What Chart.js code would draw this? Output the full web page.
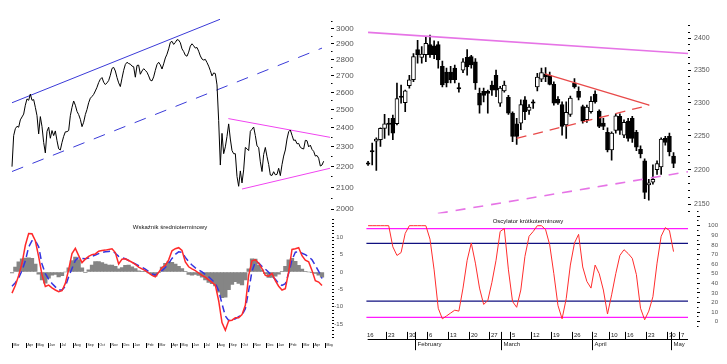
<!DOCTYPE html>
<html><head><meta charset="utf-8">
<script src="https://cdn.jsdelivr.net/npm/chart.js@4.4.1/dist/chart.umd.min.js"></script>
<style>
html,body{margin:0;padding:0;background:#fff;}
#wrap{position:relative;width:727px;height:364px;overflow:hidden;background:#fff;}
canvas{position:absolute;}
.ttl{position:absolute;font-family:"Liberation Sans",Arial,sans-serif;font-size:6px;line-height:1;color:#111;white-space:nowrap;transform:translate(-50%,-50%);}
</style></head>
<body><div id="wrap">
<canvas id="cA" width="360" height="230" style="left:0px;top:0px"></canvas>
<canvas id="cB" width="360" height="159" style="left:0px;top:205px"></canvas>
<canvas id="cC" width="367" height="230" style="left:360px;top:0px"></canvas>
<canvas id="cD" width="367" height="164" style="left:360px;top:200px"></canvas>
<div class="ttl" style="left:170px;top:227px">Wskaźnik średnioterminowy</div>
<div class="ttl" style="left:528px;top:221px">Oscylator krótkoterminowy</div>
</div>
<script>
// ---------- DATA ----------
// Top-left: long-term index (log scale)
const priceA = [2200,2359,2396,2409,2404,2444,2460,2476,2526,2562,
 2554,2590,2554,2558,2514,2467,2368,2462,2407,2323,
 2269,2382,2404,2345,2386,2359,2384,2332,2290,2284,
 2323,2355,2379,2380,2386,2467,2514,2550,2526,2491,
 2473,2447,2407,2431,2473,2502,2540,2566,2576,2588,
 2608,2630,2658,2678,2688,2660,2646,2656,2670,2702,
 2744,2750,2728,2688,2656,2634,2684,2732,2768,2782,
 2774,2770,2758,2754,2690,2762,2764,2708,2728,2742,
 2732,2720,2698,2672,2668,2692,2732,2768,2782,2766,
 2740,2772,2809,2833,2867,2909,2916,2896,2909,2927,
 2924,2907,2867,2850,2826,2820,2846,2885,2900,2887,
 2872,2876,2852,2822,2802,2796,2800,2780,2758,2730,
 2698,2716,2712,2644,2440,2208,2371,2265,2300,2355,
 2422,2341,2281,2265,2265,2152,2105,2179,2121,2184,
 2297,2290,2281,2382,2393,2405,2359,2305,2297,2224,
 2176,2261,2297,2250,2211,2159,2157,2175,2160,2162,
 2192,2156,2210,2253,2284,2341,2380,2389,2361,2334,
 2336,2316,2318,2298,2292,2289,2334,2332,2300,2309,
 2287,2277,2253,2256,2242,2203,2208,2227];
const blueTopA = [{x:0,y:2540},{x:124.8,y:3064}];
const blueLowA = [{x:0,y:2176},{x:186,y:2872}];
const magTopA  = [{x:129.8,y:2451},{x:190.8,y:2350}];
const magLowA  = [{x:138,y:2092},{x:190.8,y:2192}];
const tickValsA = [2000,2050,2100,2150,2200,2250,2300,2350,2400,2450,2500,2550,2600,2650,2700,2750,2800,2850,2900,2950,3000,3050];

// Bottom-left: medium-term indicator
const redB = [-6.1,-3.9,-1.0,2.5,7.7,11.1,11.0,9.0,4.4,-0.8,
 -4.2,-3.8,-4.6,-5.2,-5.7,-5.4,-3.3,0.7,5.3,6.8,
 4.7,2.7,3.7,4.5,5.0,5.2,6.0,6.2,6.3,6.5,
 6.7,5.6,2.3,3.7,3.8,3.3,2.8,2.2,1.4,0.9,
 0.4,-0.3,-1.0,-1.4,-0.1,1.3,1.9,3.5,6.1,6.7,
 7.0,6.2,2.9,1.5,0.9,0.4,-0.3,-1.0,-1.5,-2.3,
 -3.0,-3.8,-8.3,-14.6,-16.8,-14.1,-13.9,-13.2,-13.2,-12.3,
 -9.6,-1.0,3.2,3.5,2.5,1.0,-1.0,-1.2,-0.4,-2.5,
 -4.1,-5.2,-4.8,0.0,6.5,6.7,7.0,4.7,3.4,2.9,
 0.4,-2.5,-2.9,-3.9];
const blueB = [-4.1,-3.1,-1.7,0.4,3.2,7.2,9.0,9.0,7.3,2.3,
 -0.5,-2.1,-3.3,-4.3,-5.2,-5.2,-4.2,-1.4,1.0,3.3,
 4.2,3.9,3.8,4.0,4.5,4.9,5.3,5.6,5.8,5.9,
 6.0,5.4,4.5,4.1,3.8,3.3,2.8,2.3,1.8,1.4,
 0.8,0.1,-0.6,-0.9,-0.3,0.4,1.3,2.5,3.9,5.1,
 5.8,5.7,4.2,3.0,2.0,1.2,0.6,0.0,-0.7,-1.4,
 -2.3,-3.3,-5.4,-9.2,-12.7,-14.0,-13.9,-13.5,-12.9,-12.4,
 -10.6,-5.4,0.2,2.9,2.6,1.6,0.8,-0.1,-1.2,-2.1,
 -3.3,-3.9,-3.4,-0.4,3.5,5.7,5.8,5.4,5.0,4.4,
 3.5,1.9,0.2,-1.9];
const histB = [-0.3,1.4,2.9,3.8,4.0,4.1,3.9,2.3,-0.6,-2.3,
 -3.2,-1.8,-0.9,-0.7,-1.4,-1.1,0.0,1.2,3.3,4.3,
 3.6,1.2,-0.2,0.6,2.0,3.0,3.0,2.7,2.3,2.0,
 2.0,1.6,0.9,1.3,1.9,2.0,1.5,1.0,0.3,0.1,
 0.1,-0.3,-0.8,-1.2,-0.2,1.4,2.5,3.0,2.8,2.3,
 1.6,1.0,0.2,-0.7,-0.9,-0.7,-1.0,-1.5,-2.3,-3.0,
 -3.4,-4.0,-5.8,-7.4,-7.3,-5.1,-3.6,-2.8,-3.3,-3.7,
 -2.3,0.9,3.8,3.7,1.9,0.6,-0.5,-1.6,-1.6,-1.2,
 -0.6,0.2,1.6,3.5,3.9,3.1,1.9,0.8,0.1,0.0,
 -0.1,-0.4,-0.9,-1.5];
const tickValsB = [-19,-18,-17,-16,-15,-14,-13,-12,-11,-10,-9,-8,-7,-6,-5,-4,-3,-2,-1,0,1,2,3,4,5,6,7,8,9,10,11,12,13,14,15];
const tickIdxB = [0.1,4.2,7.1,10.9,14.4,18.3,22.1,25.8,29.4,33,36.3,40.1,43.8,47.6,50.4,54.1,57.7,61.4,65.1,68.8,72.4,76.1,79.6,83,86.9,90.4,93.9];
const tickLabelsB = ['Mar','Apr','May','Jun','Jul','Aug','Sep','Oct','Nov','Dec','Jan','Feb','Mar','Apr','May','Jun','Jul','Aug','Sep','Oct','Nov','Dec','Jan','Feb','Mar','Apr','May'];

// Top-right: daily candles
const openC  = [2210,2228,2242,2244,2261,2269,2276,2268,2310,2300,2326,2335,2382,2370,2374,2390,2388,2390,2356,2347,2347,2353,2323,2350,2370,2371,2363,2314,2317,2317,2327,2342,2299,2318,2308,2284,2268,2269,2304,2288,2301,2324,2336,2344,2342,2328,2305,2297,2266,2282,2330,2317,2294,2274,2286,2313,2287,2269,2255,2229,2258,2279,2251,2272,2276,2255,2230,2213,2178,2182,2200,2204,2246,2249,2220];
const highC  = [2212,2239,2247,2262,2282,2276,2281,2330,2327,2319,2342,2376,2397,2387,2403,2405,2396,2395,2364,2353,2356,2358,2330,2368,2382,2373,2368,2322,2322,2319,2333,2350,2325,2333,2311,2286,2276,2304,2309,2297,2304,2345,2353,2354,2347,2332,2309,2301,2301,2310,2337,2324,2296,2296,2309,2318,2289,2276,2262,2256,2283,2283,2274,2276,2279,2258,2235,2216,2186,2207,2213,2247,2249,2254,2225];
const lowC   = [2206,2207,2199,2234,2246,2251,2244,2266,2299,2286,2322,2332,2361,2361,2363,2370,2368,2353,2324,2324,2330,2330,2316,2346,2342,2353,2320,2284,2301,2284,2311,2309,2294,2316,2282,2241,2237,2259,2274,2282,2291,2318,2332,2332,2327,2296,2297,2251,2246,2279,2322,2304,2269,2270,2284,2299,2262,2259,2226,2214,2254,2252,2247,2242,2240,2228,2217,2158,2156,2179,2193,2193,2236,2220,2203];
const closeC = [2208,2226,2245,2261,2268,2267,2254,2306,2308,2318,2335,2371,2374,2375,2392,2374,2374,2366,2327,2330,2335,2335,2321,2363,2355,2358,2330,2296,2311,2314,2319,2319,2322,2327,2284,2249,2249,2297,2286,2293,2299,2339,2346,2340,2328,2299,2299,2264,2285,2307,2324,2308,2272,2293,2302,2301,2264,2264,2229,2254,2280,2258,2270,2246,2246,2233,2223,2167,2181,2186,2209,2245,2240,2226,2209];
const magTopC = [{x:0,y:2409.5},{x:77.5,y:2376}];
const magLowC = [{x:16.9,y:2137},{x:77.5,y:2197}];
const redTopC = [{x:42.9,y:2344},{x:68.1,y:2296}];
const redLowC = [{x:36,y:2246},{x:68.1,y:2296}];
const tickValsC = [2140,2150,2160,2170,2180,2190,2200,2210,2220,2230,2240,2250,2260,2270,2280,2290,2300,2310,2320,2330,2340,2350,2360,2370,2380,2390,2400,2410,2420];

// Bottom-right: short-term oscillator
const oscD = [100,100,100,100,100,100,78,69,72,92,100,100,100,100,100,86,54,14,3,6,9,12,11,35,64,82,61,35,18,22,41,64,94,97,54,21,15,33,68,89,94,100,100,96,80,50,17,3,24,59,82,91,57,42,35,59,50,33,8,28,50,69,75,71,66,49,14,2,11,26,61,89,98,95,73];
const levelsMagD = [97, 4.5];
const levelsNavyD = [81.5, 21.5];
const tickValsD = [-5,0,5,10,15,20,25,30,35,40,45,50,55,60,65,70,75,80,85,90,95,100,105,110,115];
const weekIdxD = [0,5,10,15,20,25,30,35,40,45,50,55,59,63,68,73,76];
const weekLabelsD = ['16','23','30','6','13','20','27','5','12','19','26','2','10','16','23','30','7'];
const monthIdxD = [12,33,55,74];
const monthLabelsD = ['February','March','April','May'];

// ---------- CHARTS ----------
const FONT = '"Liberation Sans", Arial, sans-serif';
Chart.defaults.font.family = FONT;
const base = {responsive:false, animation:false, devicePixelRatio:1, events:[],
  plugins:{legend:{display:false}, tooltip:{enabled:false}}};
function rightAxis(o){
  return Object.assign({position:'right', bounds:'data', beginAtZero:false,
    afterBuildTicks: s => { s.ticks = o.vals.map(v => ({value:v})); },
    afterFit: s => { s.width = o.width; },
    border:{display:false},
    grid:{drawOnChartArea:false, drawTicks:true, tickLength:o.tl, tickColor:'#000', tickWidth:1,
      tickBorderDash: c => (c.tick && o.isMajor(c.tick.value)) ? [] : o.minorDash},
    ticks:{autoSkip:false, padding:o.pad, color:'#555', crossAlign:o.cross||'near',
      font:{size:o.fs, lineHeight:1}, callback: v => o.label(v) ? String(v) : ''}
  }, o.extra||{});
}
const line = (data, color, w, dash) => ({type:'line', data, borderColor:color, borderWidth:w,
  borderDash:dash||[], pointRadius:0, tension:0, fill:false});

// A
new Chart(document.getElementById('cA'), {
  type:'line',
  data:{datasets:[
    line(priceA.map((v,i)=>({x:i,y:v})), '#000', 1),
    line(blueTopA, '#3a3ad8', 1),
    line(blueLowA, '#3a3ad8', 1, [12,10]),
    line(magTopA, '#f044f0', 1),
    line(magLowA, '#f044f0', 1)
  ]},
  options:Object.assign({}, base, {
    layout:{padding:{left:10, top:17, right:0, bottom:9.7}},
    scales:{
      x:{type:'linear', display:false, min:-1.2, max:191.4, offset:false},
      y:rightAxis({vals:tickValsA, width:29, tl:3, pad:2, fs:8, minorDash:[1.5,3],
        isMajor:v=>v%100===0, label:v=>v%100===0, extra:{type:'logarithmic', min:1950, max:3080}})
    }
  })
});

// B
const axisB = {id:'axisB', afterDraw(chart){
  const {ctx, chartArea, scales:{x}} = chart;
  const y1 = chartArea.bottom + 3.4, y2 = chartArea.bottom + 8.4;
  ctx.save(); ctx.strokeStyle = '#000'; ctx.lineWidth = 1; ctx.fillStyle = '#222';
  ctx.font = '3.5px ' + FONT; ctx.textAlign = 'left'; ctx.textBaseline = 'middle';
  tickIdxB.forEach((d,k) => {
    const px = Math.round(x.getPixelForValue(d)) + 0.5;
    ctx.beginPath(); ctx.moveTo(px, y1); ctx.lineTo(px, y2); ctx.stroke();
    ctx.fillText(tickLabelsB[k], px + 1, (y1 + y2) / 2);
  });
  ctx.restore();
}};
new Chart(document.getElementById('cB'), {
  type:'bar',
  data:{datasets:[
    {type:'line', data:redB.map((v,i)=>({x:i,y:v})), borderColor:'#ff2a2a', borderWidth:1.5, pointRadius:0, tension:0, order:1},
    {type:'line', data:blueB.map((v,i)=>({x:i,y:v})), borderColor:'#3434e0', borderWidth:1.5, borderDash:[7,4], pointRadius:0, tension:0, order:2},
    {type:'bar', data:histB.map((v,i)=>({x:i,y:v})), backgroundColor:'#858585', borderWidth:0, barThickness:3.6, grouped:false, order:3}
  ]},
  options:Object.assign({}, base, {
    layout:{padding:{left:10, top:13.9, right:17, bottom:24.4}},
    scales:{
      x:{type:'linear', display:false, min:-0.6, max:96, offset:false, grid:{offset:false}},
      y:rightAxis({vals:tickValsB, width:11, tl:2, pad:0.5, fs:6, cross:'far', minorDash:[],
        isMajor:v=>true, label:v=>v%5===0 && v>=-15 && v<=10, extra:{type:'linear', min:-19.5, max:15.3}})
    }
  }),
  plugins:[axisB]
});

// C
new Chart(document.getElementById('cC'), {
  type:'bar',
  data:{datasets:[
    {type:'bar', data:openC.map((o,i)=>({x:i, y:[o, closeC[i]]})), barThickness:4, grouped:false,
      borderColor:'#000', borderWidth:1, borderSkipped:false,
      backgroundColor: c => (closeC[c.dataIndex] >= openC[c.dataIndex]) ? '#fff' : '#000', order:1},
    {type:'bar', data:lowC.map((l,i)=>({x:i, y:[l, highC[i]]})), barThickness:1, grouped:false,
      backgroundColor:'#000', borderWidth:0, order:2},
    Object.assign(line(magTopC, '#e674e6', 1.6), {order:0}),
    Object.assign(line(magLowC, '#e674e6', 1.6, [10,8]), {order:0}),
    Object.assign(line(redTopC, '#e84a4a', 1.3), {order:0}),
    Object.assign(line(redLowC, '#e84a4a', 1.3, [10,7]), {order:0})
  ]},
  options:Object.assign({}, base, {
    layout:{padding:{left:6, top:22.7, right:0, bottom:16.5}},
    scales:{
      x:{type:'linear', display:false, min:-0.5, max:77.5, offset:false, grid:{offset:false}},
      y:rightAxis({vals:tickValsC, width:39, tl:3, pad:3, fs:7, minorDash:[2,1],
        isMajor:v=>v%50===0, label:v=>v%50===0, extra:{type:'logarithmic', min:2137, max:2425}})
    }
  })
});

// D
const axisD = {id:'axisD', afterDraw(chart){
  const {ctx, chartArea, scales:{x}} = chart;
  const y0 = Math.round(chartArea.bottom + 12.8) + 0.5;
  ctx.save(); ctx.strokeStyle = '#000'; ctx.lineWidth = 1; ctx.fillStyle = '#222';
  ctx.beginPath(); ctx.moveTo(x.getPixelForValue(-0.1), y0); ctx.lineTo(x.getPixelForValue(77.5), y0); ctx.stroke();
  ctx.font = '6px ' + FONT; ctx.textAlign = 'left'; ctx.textBaseline = 'middle';
  weekIdxD.forEach((d,k) => {
    const px = Math.round(x.getPixelForValue(d - 0.65)) + 0.5;
    if (k > 0) { ctx.beginPath(); ctx.moveTo(px, y0 - 7.6); ctx.lineTo(px, y0); ctx.stroke(); }
    ctx.fillText(weekLabelsD[k], px + 1.5, y0 - 4.3);
  });
  monthIdxD.forEach((d,k) => {
    const px = Math.round(x.getPixelForValue(d - 0.7)) + 0.5;
    ctx.beginPath(); ctx.moveTo(px, y0 - 7.6); ctx.lineTo(px, y0 + 10.7); ctx.stroke();
    ctx.fillText(monthLabelsD[k], px + 2, y0 + 5);
  });
  ctx.restore();
}};
const hl = (v) => [{x:-0.4, y:v}, {x:77.5, y:v}];
new Chart(document.getElementById('cD'), {
  type:'line',
  data:{datasets:[
    line(oscD.map((v,i)=>({x:i,y:v})), '#ff2d2d', 1),
    line(hl(levelsMagD[0]), '#ff1aff', 1.2),
    line(hl(levelsMagD[1]), '#ff1aff', 1.2),
    line(hl(levelsNavyD[0]), '#101080', 1.2),
    line(hl(levelsNavyD[1]), '#101080', 1.2)
  ]},
  options:Object.assign({}, base, {
    layout:{padding:{left:6, top:11.3, right:9, bottom:37.5}},
    scales:{
      x:{type:'linear', display:false, min:-0.5, max:79.68, offset:false},
      y:rightAxis({vals:tickValsD, width:21, tl:3, pad:0, fs:6, cross:'far', minorDash:[1.5,3],
        isMajor:v=>v%10===0, label:v=>v%10===0 && v>=0 && v<=100, extra:{type:'linear', min:-5, max:115}})
    }
  }),
  plugins:[axisD]
});
</script>
</body></html>
